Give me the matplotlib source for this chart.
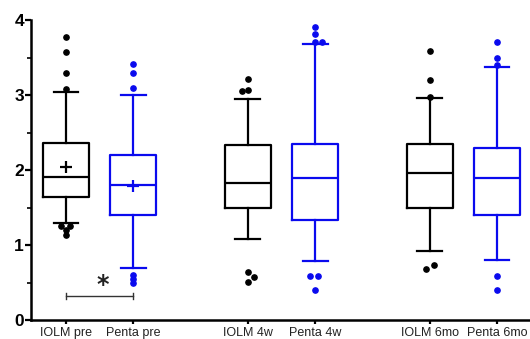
import matplotlib
matplotlib.use("Agg")
import matplotlib.pyplot as plt
from matplotlib.ticker import MultipleLocator

plt.rcParams['font.family'] = ['Liberation Sans', 'DejaVu Sans']

# ---- data ----
labels = ["IOLM pre", "Penta pre", "IOLM 4w", "Penta 4w", "IOLM 6mo", "Penta 6mo"]
whislo = [1.30, 0.70, 1.08, 0.79, 0.92, 0.80]
q1 = [1.64, 1.40, 1.49, 1.34, 1.49, 1.40]
median = [1.91, 1.80, 1.83, 1.90, 1.96, 1.90]
q3 = [2.36, 2.20, 2.33, 2.35, 2.35, 2.30]
whishi = [3.04, 3.00, 2.95, 3.68, 2.96, 3.38]
means = [2.04, 1.79, None, None, None, None]
fliers = [
    [3.77, 3.57, 3.29, 3.08, 1.26, 1.26, 1.20, 1.13],
    [3.41, 3.30, 3.10, 0.60, 0.55, 0.49],
    [3.21, 3.06, 3.07, 0.64, 0.57, 0.51],
    [3.91, 3.81, 3.71, 3.71, 0.59, 0.59, 0.40],
    [3.59, 3.20, 2.98, 0.73, 0.68],
    [3.71, 3.50, 3.40, 0.59, 0.40],
]
sig_pair = (0, 1)
sig_level = 0.32
sig_text = "*"

# ---- style ----
positions = [0, 1, 2.7, 3.7, 5.4, 6.4]
flier_dx = [
    [0, 0, 0, 0, -0.08, 0.06, 0, 0],
    [0, 0, 0, 0, 0, 0],
    [0, -0.09, 0, 0, 0.09, 0],
    [0, 0, 0, 0.1, -0.08, 0.04, 0],
    [0, 0, 0, 0.06, -0.06],
    [0, 0, 0, 0, 0],
]
colors = ['black', '#0a0aee'] * 3

fig = plt.figure(figsize=(5.30, 3.39), dpi=100)
ax = fig.add_axes([31 / 530, 1 - 320 / 339, 1 - 31 / 530, 300 / 339])

for i in range(len(labels)):
    st = dict(med=median[i], q1=q1[i], q3=q3[i], whislo=whislo[i], whishi=whishi[i],
              fliers=[], label=labels[i])
    c = colors[i]
    ax.bxp([st], positions=[positions[i]], widths=0.68, showfliers=False,
           capwidths=0.37,
           boxprops=dict(color=c, lw=1.6),
           medianprops=dict(color=c, lw=1.6),
           whiskerprops=dict(color=c, lw=1.6),
           capprops=dict(color=c, lw=1.6),
           manage_ticks=False)
    fx = [positions[i] + d for d in flier_dx[i]]
    ax.plot(fx, fliers[i], 'o', color=c, ms=3.8, mec=c, zorder=3)
    if means[i] is not None:
        ax.plot([positions[i]], [means[i]], '+', color=c, ms=8, mew=1.6, zorder=3)

# significance bracket
x1, x2 = positions[sig_pair[0]], positions[sig_pair[1]]
ax.plot([x1, x2], [sig_level, sig_level], color='#333333', lw=1.0)
ax.plot([x1, x1], [sig_level - 0.04, sig_level + 0.04], color='#333333', lw=1.0)
ax.plot([x2, x2], [sig_level - 0.04, sig_level + 0.04], color='#333333', lw=1.0)
ax.text((x1 + x2) / 2 + 0.04, sig_level + 0.14, sig_text, ha='center', va='center',
        fontsize=17, fontweight='bold', color='#222222', family='DejaVu Sans')

ax.set_xlim(-0.52, 6.89)
ax.set_ylim(0, 4)
ax.set_xticks(positions)
ax.set_xticklabels(labels, fontsize=9, color='#222222')
ax.set_yticks([0, 1, 2, 3, 4])
ax.set_yticklabels(['0', '1', '2', '3', '4'], fontsize=12.5, fontweight='bold')
ax.yaxis.set_minor_locator(MultipleLocator(0.5))
ax.tick_params(axis='y', which='major', length=4, width=1.6, pad=1)
ax.tick_params(axis='y', which='minor', length=3, width=1.2)
ax.tick_params(axis='x', which='major', length=3, width=1.6, pad=2)
for s in ['top', 'right']:
    ax.spines[s].set_visible(False)
for s in ['left', 'bottom']:
    ax.spines[s].set_linewidth(1.8)

fig.savefig("out.png", dpi=100)
